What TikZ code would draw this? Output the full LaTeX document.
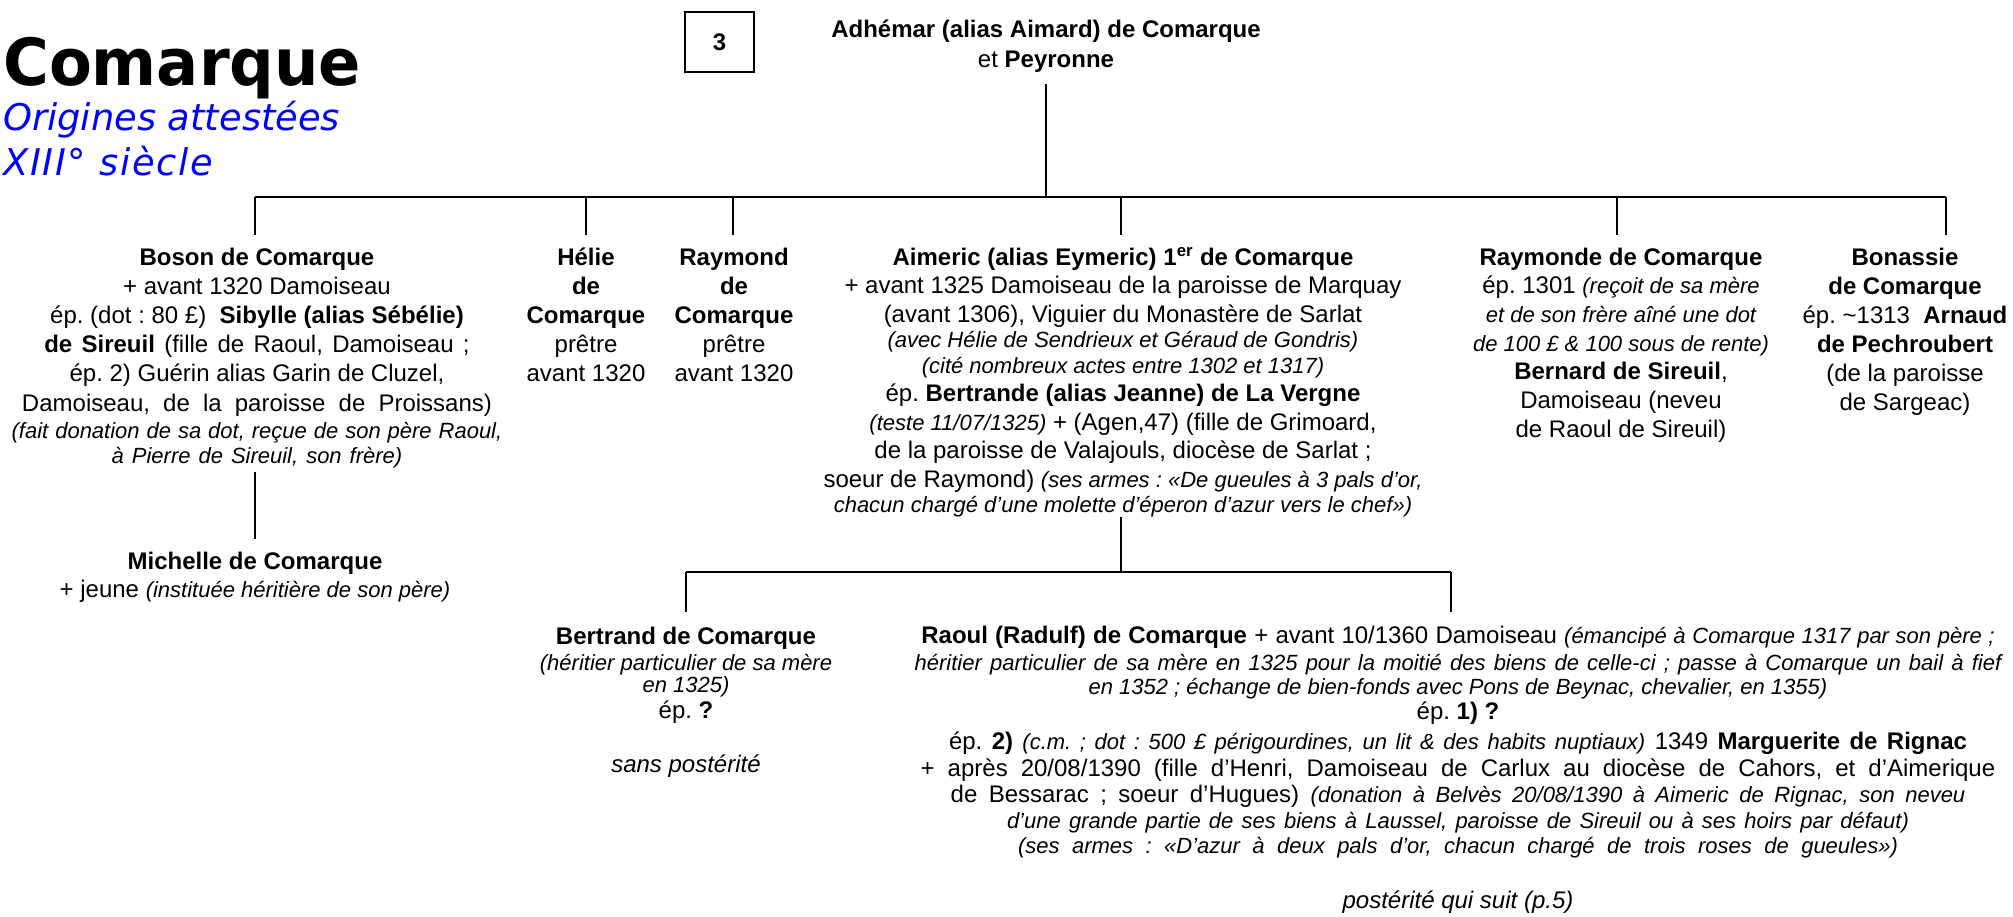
\documentclass[tikz,border=0pt]{standalone}
\usepackage{fontspec}
\setmainfont{Liberation Sans}
\newfontfamily\titlefont[FakeStretch=0.96]{DejaVu Sans}
\newfontfamily\subfont{DejaVu Sans}
\definecolor{subblue}{RGB}{0,0,255}
\frenchspacing
\newcommand{\blk}[1]{\begin{tabular}[t]{@{}c@{}}#1\end{tabular}}
\newcommand{\nt}[1]{{\fontsize{16.5}{19}\selectfont\itshape #1}}
\newcommand{\ntb}[1]{{\itshape #1}}
\newcommand{\jl}[2]{\makebox[#1][s]{#2}}
\begin{document}
\begin{tikzpicture}[x=0.75pt,y=-0.75pt,
  person/.style={anchor=base,inner sep=0pt,font=\fontsize{18}{21.375}\selectfont},
  bar/.style={line width=2.2pt},
  link/.style={line width=1.5pt}]
\useasboundingbox (0,0) rectangle (2013,917);

% title
\node[anchor=base west,inner sep=0pt,font=\titlefont\fontsize{48.75}{50}\bfseries\selectfont] (title) at (3,85) {Comarque};
\node[anchor=base west,inner sep=0pt,text=subblue,font=\subfont\fontsize{27.6}{30}\itshape\selectfont] (sub1) at (3,130) {Origines attestées};
\node[anchor=base west,inner sep=0pt,text=subblue,font=\subfont\fontsize{27.6}{30}\itshape\selectfont\addfontfeature{LetterSpace=4.5}] (sub2) at (3,175) {XIII° siècle};

% page box
\node[draw,line width=1.1pt,minimum width=51.75pt,minimum height=45pt,inner sep=0pt,font=\fontsize{18}{20}\bfseries\selectfont] (page) at (719.5,42) {3};

% couple
\node[person] (couple) at (1046,38) {\blk{\textbf{Adhémar (alias Aimard) de Comarque}\\[1pt] et \textbf{Peyronne}}};

% generation 1
\node[person,font=\fontsize{18}{21.9}\selectfont] (boson) at (257,265) {\blk{\textbf{Boson de Comarque}\\
+ avant 1320 Damoiseau\\
ép. (dot : 80 £)\ \ \textbf{Sibylle (alias Sébélie)}\\
\jl{319pt}{\textbf{de Sireuil} (fille de Raoul, Damoiseau ;}\\
ép. 2) Guérin alias Garin de Cluzel,\\
\jl{352.5pt}{Damoiseau, de la paroisse de Proissans)}\\[-1.65pt]
\jl{368pt}{\nt{(fait donation de sa dot, reçue de son père Raoul,}}\\[-3.15pt]
\jl{218pt}{\nt{à Pierre de Sireuil, son frère)}}}};

\node[person,font=\fontsize{18}{21.75}\selectfont] (helie) at (586,265) {\blk{\textbf{Hélie}\\ \textbf{de}\\ \textbf{Comarque}\\ prêtre\\ avant 1320}};
\node[person,font=\fontsize{18}{21.75}\selectfont] (raymond) at (734,265) {\blk{\textbf{Raymond}\\ \textbf{de}\\ \textbf{Comarque}\\ prêtre\\ avant 1320}};

\node[person] (aimeric) at (1123,265) {\blk{\textbf{Aimeric (alias Eymeric) 1\textsuperscript{er} de Comarque}\\
+ avant 1325 Damoiseau de la paroisse de Marquay\\
(avant 1306), Viguier du Monastère de Sarlat\\[-1.9pt]
\nt{(avec Hélie de Sendrieux et Géraud de Gondris)}\\[-2.6pt]
\nt{(cité nombreux actes entre 1302 et 1317)}\\
ép. \textbf{Bertrande (alias Jeanne) de La Vergne}\\
\nt{(teste 11/07/1325)} + (Agen,47) (fille de Grimoard,\\
de la paroisse de Valajouls, diocèse de Sarlat ;\\
soeur de Raymond) \nt{(ses armes : «De gueules à 3 pals d’or,}\\[-2.6pt]
\nt{chacun chargé d’une molette d’éperon d’azur vers le chef»)}}};

\node[person,font=\fontsize{18}{21.5}\selectfont] (raymonde) at (1621,265) {\blk{\textbf{Raymonde de Comarque}\\
ép. 1301 \nt{(reçoit de sa mère}\\
\nt{et de son frère aîné une dot}\\
\nt{de 100 £ \& 100 sous de rente)}\\
\textbf{Bernard de Sireuil},\\
Damoiseau (neveu\\
de Raoul de Sireuil)}};

\node[person,font=\fontsize{18}{21.75}\selectfont] (bonassie) at (1905,265) {\blk{\textbf{Bonassie}\\
\textbf{de Comarque}\\
ép. \textasciitilde1313\ \ \textbf{Arnaud}\\
\textbf{de Pechroubert}\\
(de la paroisse\\
de Sargeac)}};

\node[person] (michelle) at (255,569) {\blk{\textbf{Michelle de Comarque}\\ + jeune \nt{(instituée héritière de son père)}}};

% generation 2
\node[person] (bertrand) at (686,644) {\blk{\textbf{Bertrand de Comarque}\\[-1.5pt]
\nt{(héritier particulier de sa mère}\\[-4.9pt]
\nt{en 1325)}\\[-1.9pt]
ép. \textbf{?}\\[19.1pt]
\ntb{sans postérité}}};

\node[person] (raoul) at (1458,643) {\blk{\jl{805pt}{\textbf{Raoul (Radulf) de Comarque} + avant 10/1360 Damoiseau \nt{(émancipé à Comarque 1317 par son père ;}}\\[-1.1pt]
\jl{815pt}{\nt{héritier particulier de sa mère en 1325 pour la moitié des biens de celle-ci ; passe à Comarque un bail à fief}}\\[-3.4pt]
\nt{en 1352 ; échange de bien-fonds avec Pons de Beynac, chevalier, en 1355)}\\[-1.9pt]
ép. \textbf{1) ?}\\[0.4pt]
\jl{763.5pt}{ép. \textbf{2)} \nt{(c.m. ; dot : 500 £ périgourdines, un lit \& des habits nuptiaux)} 1349 \textbf{Marguerite de Rignac}}\\[-0.4pt]
\jl{806pt}{+ après 20/08/1390 (fille d’Henri, Damoiseau de Carlux au diocèse de Cahors, et d’Aimerique}\\[-1.9pt]
\jl{761pt}{de Bessarac ; soeur d’Hugues) \nt{(donation à Belvès 20/08/1390 à Aimeric de Rignac, son neveu}}\\[-1.9pt]
\jl{676.5pt}{\nt{d’une grande partie de ses biens à Laussel, paroisse de Sireuil ou à ses hoirs par défaut)}}\\[-2.6pt]
\jl{660pt}{\nt{(ses armes : «D’azur à deux pals d’or, chacun chargé de trois roses de gueules»)}}\\[19.5pt]
\ntb{postérité qui suit (p.5)}}};

% connector points
\coordinate (ctop) at (1046,84);
\coordinate (b1L) at (255,197);
\coordinate (b1R) at (1946,197);
\coordinate (dboson) at (255,235);
\coordinate (dhelie) at (586,235);
\coordinate (draymond) at (733,235);
\coordinate (daimeric) at (1121,235);
\coordinate (draymonde) at (1617,235);
\coordinate (dbonassie) at (1946,235);
\coordinate (mtop) at (255,472);
\coordinate (mbot) at (255,539);
\coordinate (atop) at (1121,517);
\coordinate (b2L) at (686,572);
\coordinate (b2R) at (1451,572);
\coordinate (dbertrand) at (686,612);
\coordinate (draoul) at (1451,612);

% connectors
\draw[link] (ctop) -- (ctop |- b1L);
\draw[bar] (b1L) -- (b1R);
\foreach \d in {dboson,dhelie,draymond,daimeric,draymonde,dbonassie}
  \draw[link] (\d |- b1L) -- (\d);
\draw[link] (mtop) -- (mbot);
\draw[link] (atop) -- (atop |- b2L);
\draw[bar] (b2L) -- (b2R);
\draw[link] (dbertrand |- b2L) -- (dbertrand);
\draw[link] (draoul |- b2L) -- (draoul);
\end{tikzpicture}
\end{document}
